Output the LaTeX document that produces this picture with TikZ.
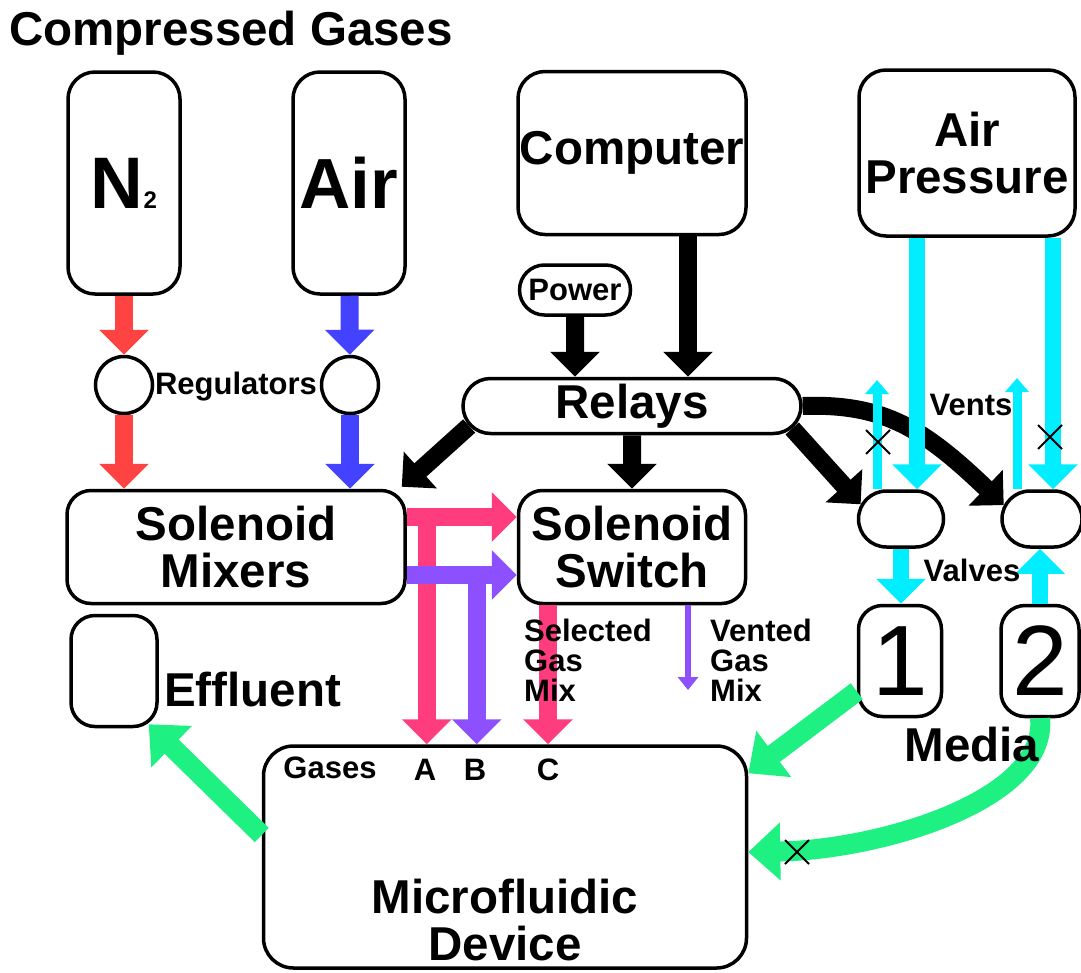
\documentclass[tikz,border=0pt]{standalone}
\usepackage{fontspec}
\setmainfont{Liberation Sans}
\usepackage{xcolor}
\usepackage{tikz}
\usetikzlibrary{arrows.meta,positioning,shapes.misc}

\definecolor{gasred}{RGB}{255,66,66}
\definecolor{gasblue}{RGB}{66,66,255}
\definecolor{mixpink}{RGB}{255,60,125}
\definecolor{mixpurple}{RGB}{140,80,255}
\definecolor{aircyan}{RGB}{0,238,255}
\definecolor{mediagreen}{RGB}{30,240,130}

\newcommand{\bigfont}{\fontsize{47.5}{47}\selectfont\bfseries}
\newcommand{\smallfont}{\fontsize{31}{30}\selectfont\bfseries}

\begin{document}
\begin{tikzpicture}[
    x=1pt, y=-1pt,
    box/.style={draw, line width=3.5pt, fill=white, rounded corners=27pt, align=center, inner sep=0pt, font=\bigfont},
    pill/.style={rounded rectangle, draw, line width=3.5pt, fill=white, inner sep=0pt, font=\bigfont},
    regulator/.style={circle, draw, line width=3.5pt, fill=white, minimum size=57pt, inner sep=0pt},
    label/.style={inner sep=0pt, font=\smallfont, align=left},
    tube/.style={line width=18pt, -{Triangle[width=48pt,length=25pt]}},
    fattube/.style={line width=20pt, -{Triangle[width=56pt,length=32pt]}},
    vent/.style={line width=9pt, -{Triangle[width=23pt,length=14pt]}},
    xmark/.style={cross out, draw, line width=2pt, minimum size=22pt, inner sep=0pt}
]
\useasboundingbox (0,0) rectangle (1081,972);

% boxes
\node[box, minimum width=112pt, minimum height=222pt] (nitro) at (124,183) {\fontsize{73}{73}\selectfont N\fontsize{24}{24}\selectfont 2};
\node[box, minimum width=112pt, minimum height=222pt] (air) at (349,183) {\fontsize{71}{71}\selectfont Air};
\node[box, minimum width=228pt, minimum height=163pt] (computer) at (632,153) {Computer};
\node[box, minimum width=216pt, minimum height=166pt] (airpress) at (967,153) {Air\\Pressure};
\node[pill, font=\smallfont, minimum width=111pt, minimum height=50pt] (power) at (575,290) {Power};
\node[pill, minimum width=338pt, minimum height=55pt] (relays) at (632,406) {Relays};
\node[regulator] (reg1) at (124,385) {};
\node[regulator] (reg2) at (350,385) {};
\node[box, rounded corners=24pt, minimum width=338pt, minimum height=113pt] (mixers) at (236,547) {Solenoid\\Mixers};
\node[box, rounded corners=24pt, minimum width=227pt, minimum height=113pt] (switch) at (632,547) {Solenoid\\Switch};
\node[pill, minimum width=85pt, minimum height=56pt] (valve1) at (901,519) {};
\node[pill, minimum width=80pt, minimum height=56pt] (valve2) at (1042,519) {};
\node[box, rounded corners=24pt, font=\fontsize{100}{100}\selectfont, minimum width=83pt, minimum height=111pt] (media1) at (900,661) {1};
\node[box, rounded corners=24pt, font=\fontsize{100}{100}\selectfont, minimum width=78pt, minimum height=111pt] (media2) at (1040,661) {2};
\node[box, rounded corners=24pt, minimum width=86pt, minimum height=111pt] (effluent) at (114,671) {};
\node[box, rounded corners=30pt, minimum width=483pt, minimum height=222pt] (device) at (505,857) {};

% gases to mixers
\draw[tube, gasred] (nitro) -- (reg1);
\draw[tube, gasred] (reg1) -- (reg1 |- mixers.north);
\draw[tube, gasblue] (air) -- (reg2);
\draw[tube, gasblue] (reg2) -- (reg2 |- mixers.north);

% control lines
\draw[tube] (power) -- (power |- relays.north);
\draw[tube] ([xshift=56pt]computer.south) -- ([xshift=56pt]computer.south |- relays.north);
\draw[tube] (relays.187) -- ([shift={(-5,-2)}]mixers.north east);
\draw[tube] (relays) -- (switch);
\draw[tube] (relays.-8) -- (valve1.160);
\draw[tube] (relays.east) .. controls (885,403) and (925,430) .. (valve2.160);

% gas mixes
\draw[tube, mixpink] ([xshift=20pt,yshift=39pt]mixers.east) coordinate (astart) -- (astart |- device.north);
\draw[tube, mixpurple] ([yshift=-28pt]mixers.east) -- ([yshift=-28pt]switch.west);
\draw[tube, mixpurple] ([xshift=70pt,yshift=-19pt]mixers.east) coordinate (bstart) -- (bstart |- device.north);
\draw[tube, mixpink] ([yshift=30pt]mixers.east) -- ([yshift=30pt]switch.west);
\draw[tube, mixpink] ([xshift=-84pt]switch.south) -- ([xshift=-84pt]switch.south |- device.north);
\coordinate (ventmixend) at (688,690);
\draw[line width=6pt, mixpurple, -{Triangle[width=20pt,length=13pt]}] (switch.south -| ventmixend) -- (ventmixend);

% air pressure and valves
\coordinate (vent1) at (877,380);
\coordinate (vent2) at (1017,378);
\draw[tube, aircyan, line width=16pt] ([xshift=-50pt]airpress.south) -- ([xshift=16pt]valve1.north);
\draw[tube, aircyan, line width=16pt] ([xshift=86pt]airpress.south) -- ([xshift=11pt]valve2.north);
\draw[vent, aircyan] ([xshift=-24pt]valve1.north) -- (vent1);
\draw[vent, aircyan] ([xshift=-25pt]valve2.north) -- (vent2);
\draw[tube, aircyan, line width=16pt] (valve1.south) -- (valve1.south |- media1.north);
\draw[tube, aircyan, line width=16pt] (media2.north) -- (media2.north |- valve2.south);
\node[xmark] (cross1) at (878,442) {};
\node[xmark] (cross2) at (1050,437) {};

% media and effluent
\draw[fattube, mediagreen] (media1.215) -- (device.19);
\draw[fattube, mediagreen] (media2.south) .. controls (1048,800) and (880,850) .. ([yshift=5pt]device.east);
\draw[fattube, mediagreen] ([yshift=22pt]device.west) -- ([shift={(-10,-4)}]effluent.south east);
\node[xmark] (cross3) at (797,852) {};

% texts
\node[inner sep=0pt, font=\bigfont, anchor=west] (title) at (9,33) {Compressed Gases};
\node[label] (reglabel) at (236,387) {Regulators};
\node[inner sep=0pt, font=\bigfont, anchor=west] (effllabel) at (164,690) {Effluent};
\node[label, anchor=north west] (selmix) at (524,619) {Selected\\Gas\\Mix};
\node[label, anchor=north west] (ventmix) at (710,619) {Vented\\Gas\\Mix};
\node[label] (ventslabel) at (971,405) {Vents};
\node[label] (valveslabel) at (972,570) {Valves};
\node[inner sep=0pt, font=\bigfont] (medialabel) at (972,745) {Media};
\node[label] (gaseslabel) at (330,768) {Gases};
\node[label] (alabel) at (425,770) {A};
\node[label] (blabel) at (475,770) {B};
\node[label] (clabel) at (548,770) {C};
\node[inner sep=0pt, font=\bigfont, align=center] (devicelabel) at (505,920) {Microfluidic\\Device};
\end{tikzpicture}
\end{document}
